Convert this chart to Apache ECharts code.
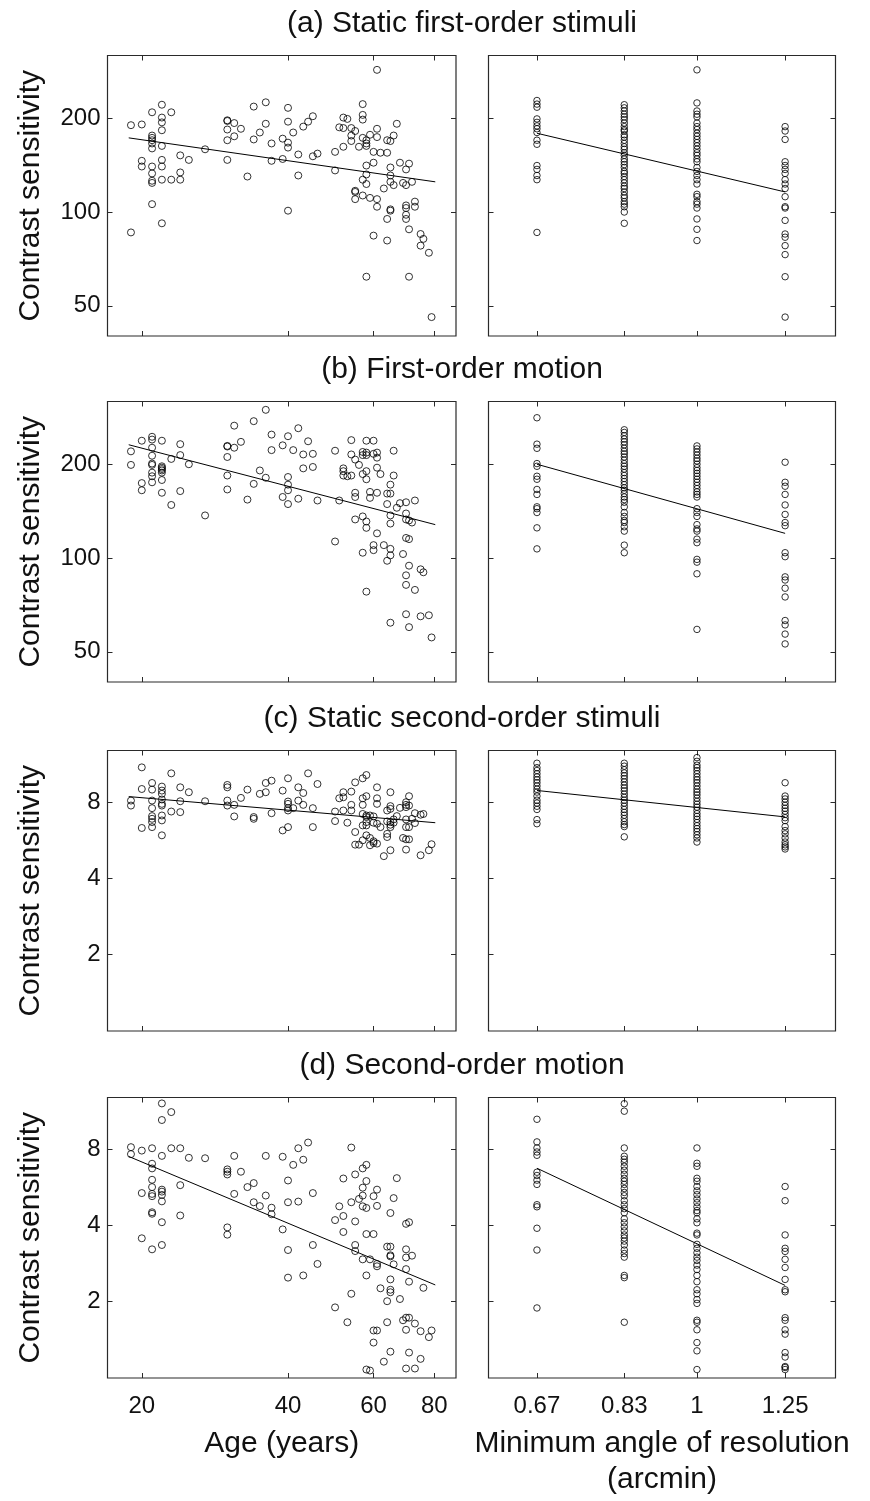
<!DOCTYPE html>
<html>
<head>
<meta charset="utf-8">
<title>Contrast sensitivity vs age and MAR</title>
<script src="https://cdn.jsdelivr.net/npm/echarts@6/dist/echarts.min.js"></script>
<style>
  html, body { margin: 0; padding: 0; background: #fff; }
  #chart { width: 870px; height: 1501px; }
</style>
</head>
<body>
<div id="chart"></div>
<script>
// ---- values ----
const rowTitles = ['(a) Static first-order stimuli', '(b) First-order motion', '(c) Static second-order stimuli', '(d) Second-order motion'];
const ageTicks = [20, 40, 60, 80];
const marTicks = [0.667, 0.832, 1, 1.25];
const marTickLabels = ['0.67', '0.83', '1', '1.25'];
const csTicksHigh = [50, 100, 200];
const csTicksLow = [2, 4, 8];

// [age, contrast sensitivity]
const ageStaticFirst = [
  [19,190],[19,86],[20,191],[20,146],[20,140],
  [21,209],[21,176],[21,173],[21,170],[21,166],[21,160],[21,140],[21,133],[21,126],[21,124],[21,106],
  [22,221],[22,201],[22,194],[22,183],[22,163],[22,147],[22,140],[22,127],[22,92],
  [23,209],[23,127],[24,152],[24,134],[24,127],[25,147],[27,159],
  [30,197],[30,196],[30,184],[30,170],[30,147],[31,193],[31,175],[32,185],[33,130],
  [34,218],[34,171],[35,180],[36,225],[36,192],[37,166],[37,146],[39,172],[39,148],
  [40,216],[40,195],[40,167],[40,161],[40,101],[41,180],[42,153],[42,131],[43,188],[44,195],
  [45,203],[45,151],[46,154],[50,156],[50,136],[51,187],[52,201],[52,186],[52,162],[53,199],
  [54,186],[54,176],[54,169],[55,182],[55,117],[55,116],[55,110],[56,162],
  [57,222],[57,205],[57,198],[57,173],[57,127],[57,113],
  [58,170],[58,166],[58,163],[58,141],[58,132],[58,123],[58,62],[59,177],[59,111],
  [60,156],[60,144],[60,84],[61,286],[61,185],[61,174],[61,110],[61,104],[62,155],[63,119],
  [64,170],[64,155],[64,95],[64,81],[65,169],[65,139],[65,131],[65,125],[65,102],[65,101],
  [66,176],[66,122],[67,192],[68,144],[69,124],
  [70,137],[70,122],[70,105],[70,103],[70,98],[70,95],[71,143],[71,88],[71,62],[72,125],
  [73,108],[73,104],[75,85],[75,78],[76,82],[78,74],[79,46]
];
const ageMotionFirst = [
  [19,220],[19,199],[20,238],[20,174],[20,165],
  [21,245],[21,240],[21,226],[21,213],[21,201],[21,199],[21,188],[21,183],[21,175],
  [22,238],[22,197],[22,195],[22,193],[22,191],[22,188],[22,178],[22,162],
  [23,208],[23,148],[24,232],[24,214],[24,164],[25,200],[27,137],
  [30,229],[30,228],[30,211],[30,184],[30,166],[31,266],[31,226],[32,236],[33,154],
  [34,275],[34,173],[35,191],[36,299],[36,181],[37,249],[37,222],[39,230],[39,157],
  [40,246],[40,182],[40,172],[40,165],[40,149],[41,222],[42,261],[42,155],[43,215],[43,194],
  [44,237],[45,216],[45,196],[46,153],[50,221],[50,113],[51,153],[52,194],[52,190],[52,184],
  [53,183],[54,239],[54,215],[54,184],[55,207],[55,162],[55,157],[55,133],[56,199],
  [57,219],[57,214],[57,186],[57,136],[57,104],
  [58,238],[58,218],[58,214],[58,190],[58,179],[58,131],[58,125],[58,78],[59,163],[59,156],
  [60,238],[60,216],[60,110],[60,106],[61,218],[61,210],[61,195],[61,162],[61,120],[62,186],
  [63,110],[64,161],[64,149],[64,98],[65,172],[65,161],[65,137],[65,129],[65,107],[65,102],[65,62],
  [66,221],[66,184],[67,145],[68,150],[69,103],
  [70,151],[70,139],[70,133],[70,116],[70,88],[70,82],[70,66],[71,132],[71,115],[71,94.5],[71,60],
  [72,130],[73,153],[73,79],[75,92],[75,65],[76,90],[78,65.5],[79,55.6]
];
const ageStaticSecond = [
  [19,8.12],[19,7.76],[20,10.98],[20,9.02],[20,6.33],
  [21,9.53],[21,8.97],[21,8.12],[21,7.58],[21,7.05],[21,6.88],[21,6.68],[21,6.38],
  [22,9.22],[22,8.89],[22,8.63],[22,8.2],[22,7.88],[22,7.76],[22,7.09],[22,6.78],[22,5.92],
  [23,10.4],[23,7.35],[24,9.16],[24,8.07],[24,7.31],[25,8.76],[27,8.07],
  [30,9.36],[30,9.16],[30,8.12],[30,7.76],[31,7.81],[31,7.03],[32,8.32],[33,8.97],
  [34,6.99],[34,6.88],[35,8.63],[36,9.53],[36,8.76],[37,9.73],[37,7.24],[39,8.89],[39,6.19],
  [40,9.94],[40,8.05],[40,7.88],[40,7.58],[40,7.42],[40,6.38],[41,7.58],[42,9.16],[42,8.12],
  [43,8.7],[43,7.81],[44,10.4],[45,7.58],[45,6.38],[46,9.44],[50,7.35],[50,6.74],[51,8.29],
  [52,8.76],[52,8.37],[52,7.42],[53,6.64],[54,8.81],[54,7.81],[54,7.42],
  [55,9.58],[55,6.1],[55,5.44],[56,5.44],
  [57,9.94],[57,8.29],[57,7.81],[57,7.19],[57,6.48],[57,5.66],
  [58,10.24],[58,8.45],[58,7.09],[58,6.99],[58,6.68],[58,6.48],[58,5.92],
  [59,7.09],[59,5.78],[59,5.41],[60,7.03],[60,6.64],[60,5.61],[60,5.52],
  [61,9.16],[61,8.29],[61,7.88],[61,6.58],[61,5.49],[62,6.38],[63,4.9],
  [64,7.42],[64,6.72],[64,6.0],[64,5.83],[65,8.76],[65,7.72],[65,7.53],[65,6.68],[65,6.52],[65,6.38],[65,5.17],
  [66,6.84],[66,6.64],[67,7.05],[68,7.6],[69,5.78],
  [70,8.0],[70,7.81],[70,7.65],[70,6.84],[70,6.38],[70,5.71],[70,5.2],
  [71,8.45],[71,7.76],[71,6.38],[71,5.71],[72,6.88],[73,7.24],[73,6.62],
  [75,7.14],[75,4.94],[76,7.19],[78,5.17],[79,5.46]
];
const ageMotionSecond = [
  [19,8.15],[19,7.65],[20,7.9],[20,5.37],[20,3.56],
  [21,8.07],[21,7.01],[21,6.72],[21,6.06],[21,5.67],[21,5.33],[21,5.22],[21,4.51],[21,4.45],[21,3.22],
  [22,12.13],[22,10.43],[22,7.53],[22,5.54],[22,5.44],[22,5.28],[22,4.98],[22,4.12],[22,3.35],
  [23,11.21],[23,8.07],[24,8.07],[24,5.77],[24,4.38],[25,7.4],[27,7.37],
  [30,6.66],[30,6.52],[30,6.36],[30,3.93],[30,3.68],[31,7.53],[31,5.33],[32,6.52],[33,5.67],
  [34,5.88],[34,4.94],[35,4.77],[36,7.53],[36,5.25],[37,4.7],[37,4.43],[39,7.47],[39,3.86],
  [40,6.02],[40,4.94],[40,3.2],[40,2.49],[41,6.94],[42,8.07],[42,4.97],[43,7.27],[43,2.54],
  [44,8.5],[45,5.37],[45,3.35],[46,2.82],[50,4.2],[50,1.9],[51,4.76],
  [52,6.13],[52,4.36],[52,3.77],[53,1.66],[54,8.12],[54,4.94],[54,2.15],
  [55,6.36],[55,4.15],[55,3.35],[55,3.17],[56,5.09],
  [57,6.72],[57,5.64],[57,5.25],[57,4.76],[57,2.94],
  [58,6.94],[58,5.99],[58,4.69],[58,3.7],[58,2.54],[58,1.08],[59,2.94],[59,1.07],
  [60,5.22],[60,3.7],[60,1.54],[60,1.38],[61,5.54],[61,4.78],[61,2.82],[61,2.76],[61,1.54],
  [62,2.26],[63,1.16],[64,3.3],[64,2.01],[64,1.66],
  [65,4.48],[65,3.3],[65,3.05],[65,3.02],[65,2.45],[65,2.23],[65,2.18],[65,1.27],
  [66,5.13],[66,2.81],[67,6.15],[68,2.05],[69,1.69],
  [70,4.06],[70,3.22],[70,2.99],[70,2.69],[70,1.73],[70,1.55],[70,1.09],
  [71,4.12],[71,2.4],[71,1.73],[71,1.26],[72,3.04],[73,1.64],[73,1.09],
  [75,1.53],[75,1.19],[76,2.27],[78,1.45],[79,1.54]
];

// contrast sensitivity per MAR column (0.67, 0.83, 1, 1.25)
const marStaticFirst = [
  [228,222,217,199,194,189,185,180,170,165,141,137,131,127,86],
  [221,216,211,206,202,198,193,188,184,182,177,174,170,166,162,159,155,152,148,145,142,139,135,133,130,127,124,121,119,116,113,111,108,106,104,100,92],
  [286,224,211,206,202,193,188,184,179,175,171,167,163,159,155,152,148,145,139,135,131,127,123,114,112,108,106,103,95,88,81],
  [188,182,171,145,141,137,133,127,123,119,112,104,103,94,85,83,78,73,62,46]
];
const marMotionFirst = [
  [282,232,225,201,197,183,179,166,160,146,144,140,125,107],
  [258,253,247,241,236,231,225,220,216,211,206,201,197,193,188,184,180,176,172,168,165,161,157,154,151,146,140,136,132,130,126,122,110,104],
  [229,224,219,214,209,205,200,195,191,187,183,179,175,171,167,163,160,157,144,140,136,128,124,122,115,112,99,97,89,59],
  [203,175,170,160,148,138,130,127,104,101,87,85,80,75,63,61,57,53]
];
const marStaticSecond = [
  [11.4,10.95,10.67,10.36,10.06,9.8,9.55,9.27,9.0,8.77,8.46,8.15,7.94,7.71,7.49,6.83,6.58],
  [11.4,11.1,10.75,10.44,10.17,9.91,9.62,9.34,9.1,8.87,8.61,8.36,8.15,7.94,7.71,7.49,7.29,7.11,6.9,6.7,6.53,6.41,5.84],
  [12.0,11.6,11.2,10.95,10.67,10.36,10.06,9.8,9.55,9.27,9.0,8.77,8.55,8.3,8.06,7.85,7.65,7.43,7.21,7.03,6.85,6.65,6.46,6.29,6.13,5.95,5.78,5.57],
  [9.55,8.46,8.24,8.0,7.77,7.57,7.38,7.16,6.95,6.77,6.41,6.18,6.0,5.78,5.57,5.43,5.33,5.23]
];
const marMotionSecond = [
  [10.5,8.55,8.09,7.8,7.57,6.49,6.3,6.04,5.81,4.83,4.74,3.9,3.2,1.89],
  [12.1,11.3,8.09,7.5,7.3,7.11,6.85,6.61,6.37,6.14,5.98,5.81,5.6,5.4,5.24,5.01,4.83,4.66,4.49,4.25,4.1,3.95,3.81,3.67,3.57,3.47,3.35,3.2,3.1,3.0,2.54,2.49,1.66],
  [8.09,7.04,6.85,6.14,5.98,5.7,5.48,5.29,5.09,4.92,4.74,4.58,4.49,4.25,4.1,3.73,3.67,3.37,3.25,3.12,3.0,2.91,2.79,2.68,2.54,2.4,2.23,2.15,2.04,1.97,1.69,1.66,1.55,1.38,1.28,1.08],
  [5.7,5.01,3.67,3.25,3.16,2.94,2.73,2.45,2.23,2.19,1.73,1.69,1.55,1.49,1.26,1.21,1.11,1.1,1.08]
];

// regression lines (end points)
const fitAge = [
  [[18.8,173],[80.4,125]],
  [[18.8,231],[80.4,128]],
  [[18.8,8.42],[80.4,6.64]],
  [[18.8,7.49],[80.4,2.33]]
];
const fitMar = [
  [[0.667,179],[1.25,116]],
  [[0.667,200],[1.25,120]],
  [[0.667,8.9],[1.25,7.0]],
  [[0.667,6.73],[1.25,2.32]]
];

const ageRange = [17, 88.7];
const marRange = [0.59, 1.42];
const csRangeHigh = [40, 318];
const csRangeLow = [1, 12.8];

// ---- layout ----
const FONT = '"Liberation Sans", Arial, Helvetica, sans-serif';
const INK = '#111';
const FRAME = '#2a2a2a';
const rowTops = [55.5, 401.5, 750.5, 1097.5];
const rowHeight = 280.5;
const cols = [{ left: 107.5, width: 348.5 }, { left: 488.5, width: 347 }];

const ageData = [ageStaticFirst, ageMotionFirst, ageStaticSecond, ageMotionSecond];
const marData = [marStaticFirst, marMotionFirst, marStaticSecond, marMotionSecond];

const roundFmt = v => String(Math.round(v));
const marFmt = v => {
  let best = 0;
  marTicks.forEach((t, i) => {
    if (Math.abs(Math.log(t / v)) < Math.abs(Math.log(marTicks[best] / v))) best = i;
  });
  return marTickLabels[best];
};

function logAxis(gridIndex, position, range, ticks, showLabels, fmt, margin) {
  return {
    type: 'log',
    logBase: 10,
    gridIndex: gridIndex,
    position: position,
    min: range[0],
    max: range[1],
    axisLine: { show: false },
    splitLine: { show: false },
    axisTick: { show: true, inside: true, length: 5, customValues: ticks, lineStyle: { color: FRAME, width: 1 } },
    axisLabel: { show: showLabels, customValues: ticks, formatter: fmt, margin: margin,
      fontSize: 24, color: INK, fontFamily: FONT }
  };
}

const option = { animation: false, backgroundColor: '#fff', title: [], grid: [], xAxis: [], yAxis: [], series: [] };

rowTitles.forEach((t, r) => {
  option.title.push({
    text: t, left: 462, top: rowTops[r] - 47, textAlign: 'center', padding: 0,
    textStyle: { fontSize: 30, fontWeight: 'normal', color: INK, fontFamily: FONT }
  });
  const yRange = r < 2 ? csRangeHigh : csRangeLow;
  const yTicks = r < 2 ? csTicksHigh : csTicksLow;
  const last = r === rowTitles.length - 1;

  cols.forEach((c, k) => {
    const gi = option.grid.length;
    option.grid.push({ left: c.left, top: rowTops[r], width: c.width, height: rowHeight,
      show: true, borderColor: FRAME, borderWidth: 1.2, backgroundColor: 'transparent' });

    const xRange = k === 0 ? ageRange : marRange;
    const xTicks = k === 0 ? ageTicks : marTicks;
    const xFmt = k === 0 ? roundFmt : marFmt;

    const xi = option.xAxis.length;
    const xb = logAxis(gi, 'bottom', xRange, xTicks, last, xFmt, 16);
    if (last) {
      xb.nameLocation = 'middle';
      xb.nameGap = 48;
      xb.name = k === 0 ? 'Age (years)' : 'Minimum angle of resolution\n(arcmin)';
      xb.nameTextStyle = { fontSize: 30, color: INK, fontFamily: FONT, lineHeight: 36 };
    }
    option.xAxis.push(xb);
    option.xAxis.push(logAxis(gi, 'top', xRange, xTicks, false, xFmt, 8));

    const yi = option.yAxis.length;
    const yl = logAxis(gi, 'left', yRange, yTicks, k === 0, roundFmt, 7);
    if (k === 0) {
      yl.name = 'Contrast sensitivity';
      yl.nameLocation = 'middle';
      yl.nameGap = 62;
      yl.nameTextStyle = { fontSize: 30, color: INK, fontFamily: FONT };
    }
    option.yAxis.push(yl);
    option.yAxis.push(logAxis(gi, 'right', yRange, yTicks, false, roundFmt, 8));

    let points;
    if (k === 0) {
      points = ageData[r];
    } else {
      points = [];
      marData[r].forEach((vals, i) => vals.forEach(v => points.push([marTicks[i], v])));
    }

    option.series.push({
      type: 'scatter', xAxisIndex: xi, yAxisIndex: yi, data: points,
      symbol: 'circle', symbolSize: k === 0 ? 7 : 6.5, silent: true,
      itemStyle: { color: 'rgba(0,0,0,0)', borderColor: '#000', borderWidth: 1 }
    });
    option.series.push({
      type: 'line', xAxisIndex: xi, yAxisIndex: yi, data: k === 0 ? fitAge[r] : fitMar[r],
      symbol: 'none', silent: true, z: 3, lineStyle: { color: '#000', width: 1 }
    });
  });
});

const chart = echarts.init(document.getElementById('chart'), null, { renderer: 'canvas' });
chart.setOption(option);
</script>
</body>
</html>
